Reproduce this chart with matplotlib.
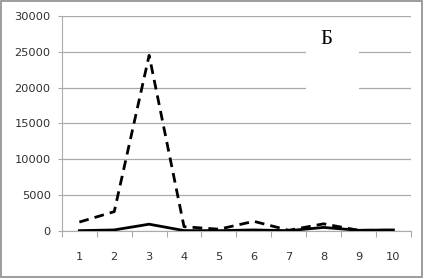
import matplotlib.pyplot as plt
from matplotlib.patches import Rectangle

# categories and series
categories = [1, 2, 3, 4, 5, 6, 7, 8, 9, 10]
dashed_vals = [1250, 2700, 24500, 600, 250, 1350, 100, 1000, 100, 100]
solid_vals = [50, 150, 950, 60, 50, 150, 50, 500, 100, 150]
y_ticks = [0, 5000, 10000, 15000, 20000, 25000, 30000]
panel_label = 'Б'

fig = plt.figure(figsize=(4.24, 2.79), dpi=100)
ax = fig.add_axes([0.146, 0.172, 0.823, 0.771])

grid_col = '#ababab'
ax.plot(categories, dashed_vals, color='black', lw=2.0, ls=(0, (3.5, 2.2)), zorder=4)
ax.plot(categories, solid_vals, color='black', lw=2.0, zorder=5)

ax.set_xlim(0.5, 10.5)
ax.set_ylim(0, 30000)
ax.set_yticks(y_ticks)
ax.set_yticklabels([str(v) for v in y_ticks])
ax.yaxis.grid(True, color=grid_col, lw=0.9)
ax.set_axisbelow(True)

# category axis: ticks sit between categories, labels at the centres
ax.set_xticks([c + 0.5 for c in [0] + categories])
ax.set_xticklabels([])
ax.set_xticks(categories, minor=True)
ax.set_xticklabels([str(c) for c in categories], minor=True)
ax.tick_params(axis='x', which='major', direction='out', length=4, color=grid_col)
ax.tick_params(axis='x', which='minor', length=0, pad=15)
ax.tick_params(axis='y', direction='out', length=3, color=grid_col, pad=5)
ax.tick_params(which='both', labelsize=8.2, labelcolor='#303030')

for s in ['top', 'right']:
    ax.spines[s].set_visible(False)
ax.spines['left'].set_color(grid_col)
ax.spines['bottom'].set_color(grid_col)

# white patch behind the panel letter
ax.add_patch(Rectangle((0.699, 0.633), 0.152, 0.339, transform=ax.transAxes,
                       facecolor='white', edgecolor='none', zorder=2))
ax.text(0.757, 0.889, panel_label, transform=ax.transAxes, ha='center', va='center',
        fontsize=15, family='Liberation Serif', zorder=3)

# outer frame of the picture
fig.patches.append(Rectangle((0.003, 0.006), 0.992, 0.99, transform=fig.transFigure,
                             fill=False, edgecolor='#8c8c8c', lw=1.2))

fig.savefig('out.png', dpi=100)
